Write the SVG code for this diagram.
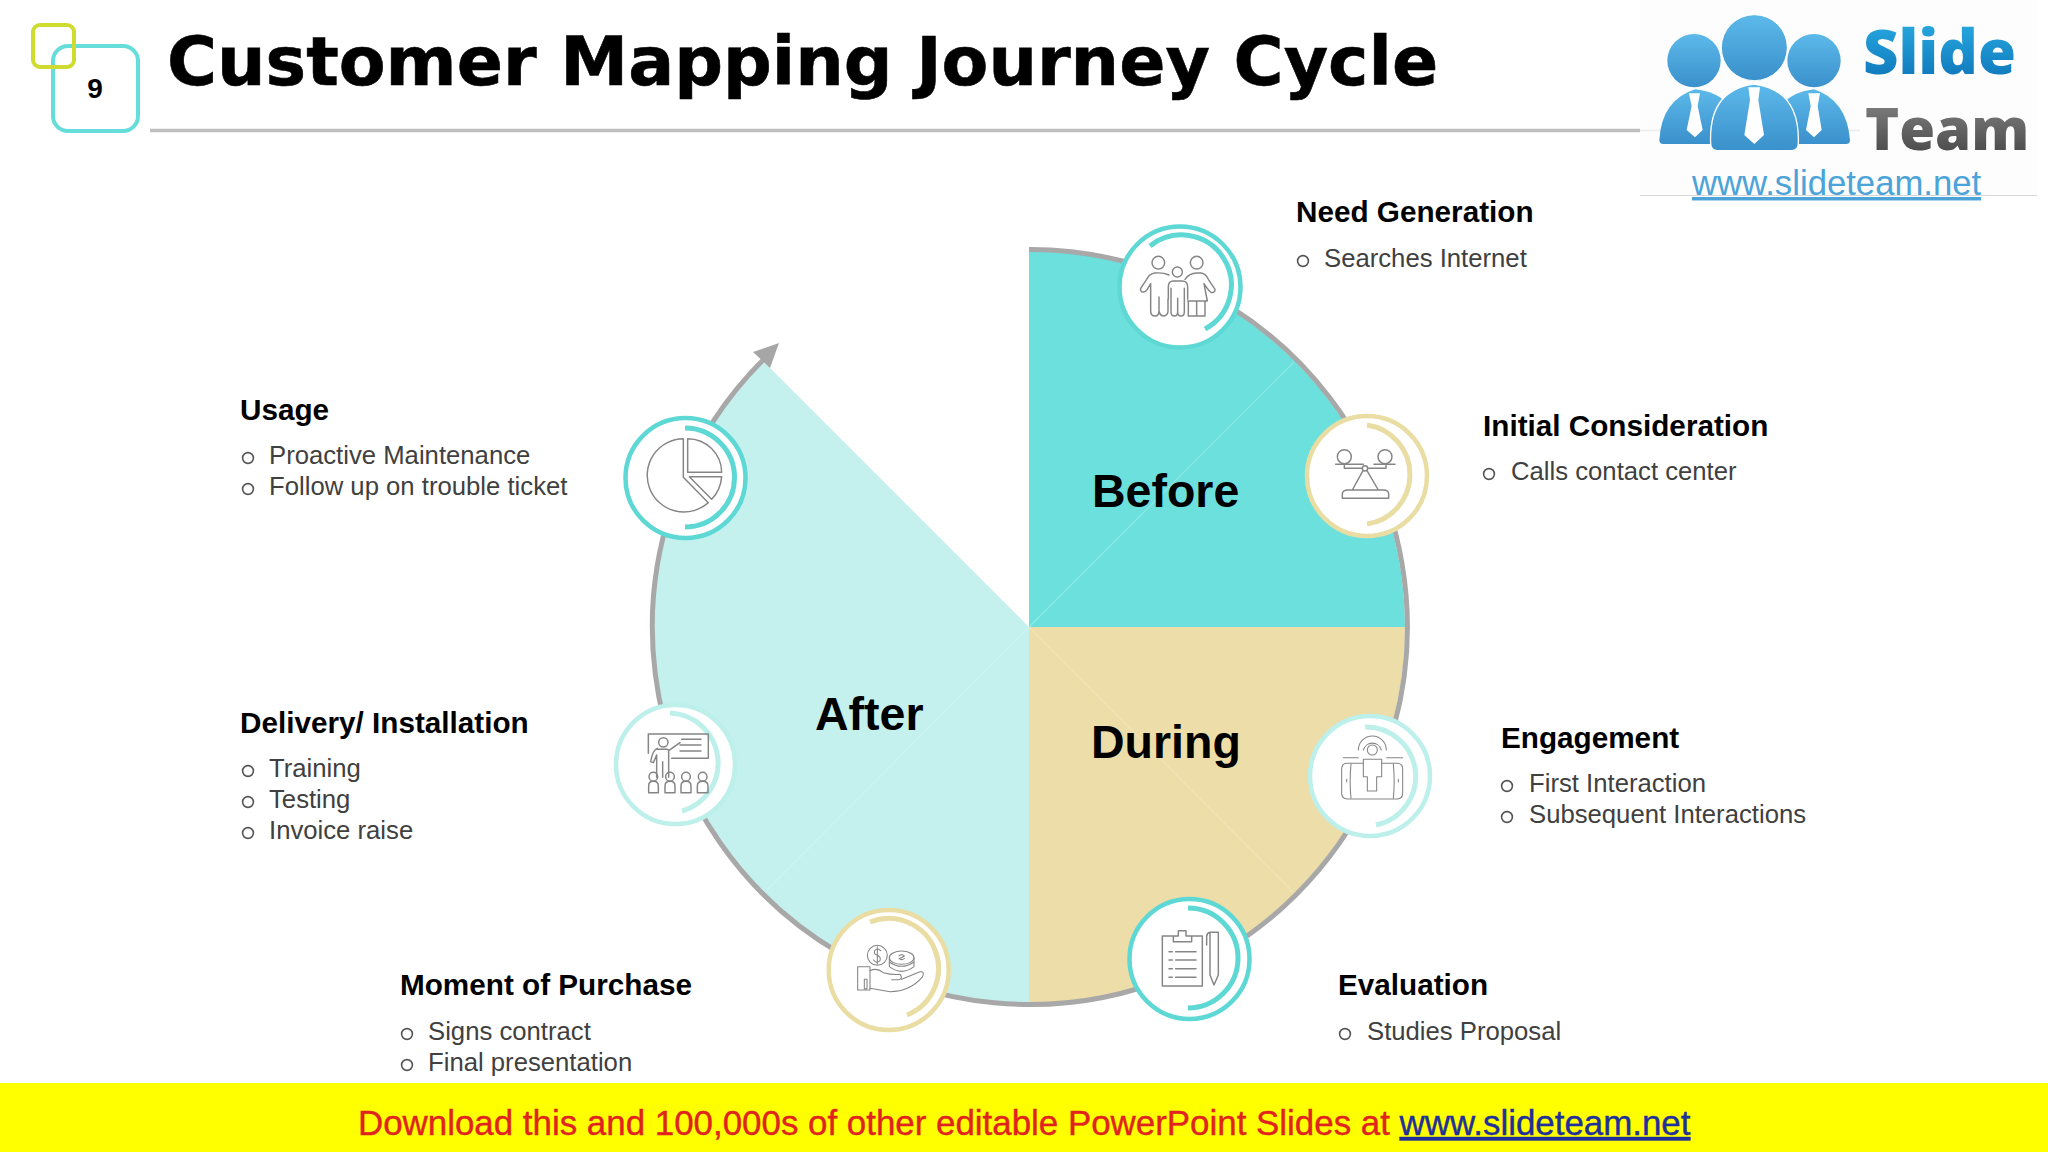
<svg xmlns="http://www.w3.org/2000/svg" width="2048" height="1152" viewBox="0 0 2048 1152">
<style>
text{font-family:"Liberation Sans",Arial,sans-serif}
.h{font-size:29.7px;font-weight:700;fill:#000}
.b{font-size:25.7px;fill:#404040}
.c{font-size:46.5px;font-weight:700;fill:#000}
.bu{fill:none;stroke:#555;stroke-width:1.6}
.ring{fill:#fff;stroke-width:4.5}
.arc{fill:none;stroke-width:5}
.cy{stroke:#5DD8D4}.ta{stroke:#E9DDA4}.li{stroke:#BDEFEB}
.ic{fill:none;stroke:#858585;stroke-width:4.4;stroke-linejoin:round;stroke-linecap:round}
.thin{stroke-width:3.2}
</style>
<defs>
<circle id="dot" class="bu" r="5.4"/>
<linearGradient id="gB" x1="0" y1="0" x2="0" y2="1"><stop offset="0" stop-color="#5DB9EA"/><stop offset="1" stop-color="#3A90CB"/></linearGradient>
<linearGradient id="gS" x1="0" y1="0" x2="0" y2="1"><stop offset="0" stop-color="#2DB4E8"/><stop offset="1" stop-color="#0A6DB3"/></linearGradient>
<linearGradient id="gT" x1="0" y1="0" x2="0" y2="1"><stop offset="0" stop-color="#8C8C8C"/><stop offset="1" stop-color="#3E3E3E"/></linearGradient>
</defs>
<rect width="2048" height="1152" fill="#fff"/>

<g id="header">
<rect x="1640" y="0" width="397" height="195" fill="#fdfdfd"/>
<rect x="53" y="46" width="85" height="85" rx="15" fill="none" stroke="#66DDDA" stroke-width="4"/>
<rect x="33" y="25" width="41" height="42" rx="7" fill="none" stroke="#CFDB2E" stroke-width="4"/>
<text x="95" y="98" font-size="28" font-weight="700" text-anchor="middle" fill="#000">9</text>
<text x="167" y="85" style="font-family:'DejaVu Sans',sans-serif" font-size="68.200" font-weight="700" fill="#000" stroke="#000" stroke-width=".6">Customer Mapping Journey Cycle</text>
<path d="M150 130.500H1640" stroke="#BFBFBF" stroke-width="3.500"/>
<path d="M1640 130.500H1860" stroke="#ececec" stroke-width="1.500"/>
</g>

<g id="logo">
<path d="M1640 195.500H2037" stroke="#d8d8d8" stroke-width="1"/>
<g transform="translate(1620 0) scale(.33333)">
<circle cx="222" cy="182" r="80" fill="url(#gB)"/>
<circle cx="582" cy="182" r="80" fill="url(#gB)"/>
<path d="M118 420Q125 300 225 268Q290 275 320 310V432H130Q118 432 118 420Z" fill="url(#gB)"/>
<path d="M690 420Q680 300 582 268Q520 275 490 310V432H678Q690 432 690 420Z" fill="url(#gB)"/>
<circle cx="403" cy="143" r="99" fill="url(#gB)" stroke="#fff" stroke-width="3"/>
<path d="M272 430Q265 270 403 252Q540 270 535 430Q535 452 515 452H292Q272 452 272 430Z" fill="url(#gB)" stroke="#fff" stroke-width="4"/>
<path d="M385 262H420L415 300L432 405L403 432L373 405L390 300ZM207 280H240L233 318L248 390L225 412L200 390L215 318ZM565 280H600L593 318L605 390L582 412L558 390L572 318Z" fill="#fff"/>
</g>
<text x="1863" y="74" font-size="61.500" font-weight="800" style="font-family:'Open Sans',sans-serif" fill="url(#gS)">Slide</text>
<text x="1865" y="150" font-size="58" font-weight="800" style="font-family:'Open Sans',sans-serif" fill="url(#gT)">Team</text>
<text x="1692" y="195" font-size="34.700" fill="#4BA3D8" text-decoration="underline">www.slideteam.net</text>
</g>

<g id="wheel">
<path id="before" d="M1029 627V251A376 376 0 0 1 1405 627Z" fill="#6BE0DC"/>
<path id="during" d="M1029 627H1405A376 376 0 0 1 1029 1003Z" fill="#EDDDA9"/>
<path id="after" d="M1029 627V1003A376 376 0 0 1 653 627A376 376 0 0 1 763 361Z" fill="#C4F1EE"/>
<path d="M1029 627L1294 362" stroke="#8FE9E6" stroke-width="1.200"/>
<path d="M1029 627L1293 892" stroke="#F0E3B6" stroke-width="1.200"/>
<path d="M1029 627L767 890" stroke="#CDF4F1" stroke-width="1.200"/>
</g>

<g id="connectors">
<path d="M1029 249.500A377.500 377.500 0 1 1 765 358" fill="none" stroke="#A8A8A8" stroke-width="5"/>
<path d="M779 343L753 352L770 368Z" fill="#A6A6A6"/>
</g>

<g id="label-before"><text class="c" x="1092" y="507">Before</text></g>
<g id="label-during"><text class="c" x="1091" y="758">During</text></g>
<g id="label-after"><text class="c" x="815" y="730">After</text></g>

<g id="node-need-generation">
<circle class="ring cy" cx="1180" cy="287" r="60.500"/>
<path class="arc cy" d="M1150 246A50 50 0 1 1 1205 329"/>
<g class="ic" transform="translate(1100 211) scale(.33333)">
<circle cx="175" cy="155" r="19"/><circle cx="290" cy="155" r="19"/><circle cx="232" cy="183" r="15"/>
<path d="M207 192Q190 184 165 186Q148 188 140 205L122 232Q120 243 130 243Q137 243 142 235L152 218V300Q152 315 165 315Q177 315 177 300V258M177 258V300Q180 315 192 315Q204 312 204 300V265"/>
<path d="M205 265V228Q205 210 220 210H247Q263 210 263 228V265M213 232V303Q213 315 223 315Q233 315 233 303V262M233 303Q233 315 243 315Q253 315 253 303V232"/>
<path d="M255 205Q268 186 290 186H303Q318 188 325 205L345 235Q346 245 335 245Q328 243 312 218L322 270H263M265 270V315H315V270M290 270V315"/>
</g>
</g>

<g id="node-initial-consideration">
<circle class="ring ta" cx="1367" cy="476" r="60"/>
<path class="arc ta" d="M1367 425A50 50 0 0 1 1367 524"/>
<g class="ic" transform="translate(1100 210) scale(.33333)">
<circle cx="733" cy="740" r="21"/><circle cx="855" cy="740" r="21"/><circle cx="795" cy="775" r="8"/>
<path d="M707 763H790M822 763H885M733 763V775H787M803 775H858V763M789 782L757 840M801 782L835 840M727 865V852Q727 840 745 840H850Q866 840 866 852V865Z"/>
</g>
</g>

<g id="node-usage">
<circle class="ring cy" cx="685.500" cy="478" r="60"/>
<path class="arc cy" d="M685 428A49.500 49.500 0 0 1 685 527"/>
<g class="ic" transform="translate(600 330) scale(.33333)">
<path d="M250 326A110 110 0 1 0 325 518L250 442Z"/>
<path d="M263 326A102 102 0 0 1 365 427H263Z"/>
<path d="M268 440H365Q362 480 335 508Z"/>
</g>
</g>

<g id="node-delivery">
<circle class="ring li" cx="675.500" cy="764.500" r="59.500"/>
<path class="arc li" d="M670 713A50 50 0 0 1 682 811"/>
<g class="ic" transform="translate(600 690) scale(.33333)">
<path d="M145 190V132H325V205H215M245 148H303M240 165H303M240 183H303"/>
<circle cx="190" cy="157" r="14"/>
<path d="M172 175Q158 180 152 215L160 218L170 195M170 195V262M206 182L240 158M170 178H203L206 182V262M188 215V262"/>
<g><circle cx="160" cy="260" r="13"/><path d="M146 308V288Q146 274 160 274Q175 274 175 288V308Z"/>
<circle cx="210" cy="260" r="13"/><path d="M195 308V288Q195 274 210 274Q225 274 225 288V308Z"/>
<circle cx="258" cy="260" r="13"/><path d="M243 308V288Q243 274 258 274Q273 274 273 288V308Z"/>
<circle cx="308" cy="260" r="13"/><path d="M292 308V288Q292 274 308 274Q324 274 324 288V308Z"/></g>
</g>
</g>

<g id="node-moment-of-purchase">
<circle class="ring ta" cx="888.700" cy="970" r="60"/>
<path class="arc ta" d="M870 922A50 50 0 0 1 907 1015"/>
<g class="ic thin" transform="translate(600 690) scale(.33333)">
<circle cx="832" cy="796" r="30"/>
<path d="M842 782Q832 772 824 782Q820 792 832 796Q844 802 840 812Q830 822 821 810M832 770V822"/>
<ellipse cx="905" cy="803" rx="37" ry="20"/>
<path d="M868 803V830Q905 858 942 830V803M868 816Q905 842 942 816M897 798Q905 790 913 798Q905 804 897 806Q905 812 913 806"/>
<path d="M773 830H810V900H773ZM793 868H801V896H793Z"/>
<path d="M810 842Q830 832 850 848Q875 855 900 853Q910 865 897 869H875M905 868L958 846Q975 842 968 860Q930 905 870 905Q840 900 810 895"/>
</g>
</g>

<g id="node-engagement">
<circle class="ring li" cx="1370" cy="776" r="60"/>
<path class="arc li" d="M1365 727A49.500 49.500 0 0 1 1376 825"/>
<g class="ic thin" transform="translate(1110 700) scale(.33333)">
<circle cx="787" cy="150" r="15"/>
<path d="M760 150A28 28 0 0 1 814 150M745 150A42 42 0 0 1 829 150M700 173H745M830 173H878"/>
<path d="M760 190H712Q695 190 695 207V280Q695 297 712 297H861Q878 297 878 280V207Q878 190 861 190H815"/>
<path d="M760 178H815V230H800V273H772V230H760ZM710 238V246M865 238V246M723 192Q718 245 723 295M850 192Q855 245 850 295"/>
</g>
</g>

<g id="node-evaluation">
<circle class="ring cy" cx="1189.500" cy="959" r="60"/>
<path class="arc cy" d="M1188 908A50 50 0 0 1 1188 1008"/>
<g class="ic" transform="translate(1110 700) scale(.33333)">
<path d="M190 708H157V858H277V708H245M190 725V708H205V692H228V708H245V725Z"/>
<path d="M177 755H187M197 755H258M177 780H187M197 780H258M177 806H187M197 806H258M177 832H187M197 832H258"/>
<path d="M300 697H325V825L312 855L300 825ZM290 735V708Q292 698 300 697"/>
</g>
</g>

<g id="text-need-generation"><text class="h" x="1296" y="222">Need Generation</text><use href="#dot" x="1303" y="261"/><text class="b" x="1324" y="267">Searches Internet</text></g>
<g id="text-initial-consideration"><text class="h" x="1483" y="436">Initial Consideration</text><use href="#dot" x="1489" y="474"/><text class="b" x="1511" y="480">Calls contact center</text></g>
<g id="text-engagement"><text class="h" x="1501" y="748">Engagement</text><use href="#dot" x="1507" y="786"/><text class="b" x="1529" y="792">First Interaction</text><use href="#dot" x="1507" y="817"/><text class="b" x="1529" y="823">Subsequent Interactions</text></g>
<g id="text-evaluation"><text class="h" x="1338" y="995">Evaluation</text><use href="#dot" x="1345" y="1034"/><text class="b" x="1367" y="1040">Studies Proposal</text></g>
<g id="text-moment"><text class="h" x="400" y="995">Moment of Purchase</text><use href="#dot" x="407" y="1034"/><text class="b" x="428" y="1040">Signs contract</text><use href="#dot" x="407" y="1065"/><text class="b" x="428" y="1071">Final presentation</text></g>
<g id="text-usage"><text class="h" x="240" y="420">Usage</text><use href="#dot" x="248" y="458"/><text class="b" x="269" y="464">Proactive Maintenance</text><use href="#dot" x="248" y="489"/><text class="b" x="269" y="495">Follow up on trouble ticket</text></g>
<g id="text-delivery"><text class="h" x="240" y="733">Delivery/ Installation</text><use href="#dot" x="248" y="771"/><text class="b" x="269" y="777">Training</text><use href="#dot" x="248" y="802"/><text class="b" x="269" y="808">Testing</text><use href="#dot" x="248" y="833"/><text class="b" x="269" y="839">Invoice raise</text></g>

<g id="footer">
<rect x="0" y="1083" width="2048" height="69" fill="#FFFF00"/>
<text x="358" y="1135" font-size="34.900" fill="#E0231F" stroke="#E0231F" stroke-width=".4">Download this and 100,000s of other editable PowerPoint Slides at <tspan fill="#1F2F9C" stroke="#1F2F9C" text-decoration="underline">www.slideteam.net</tspan></text>
</g>
</svg>
